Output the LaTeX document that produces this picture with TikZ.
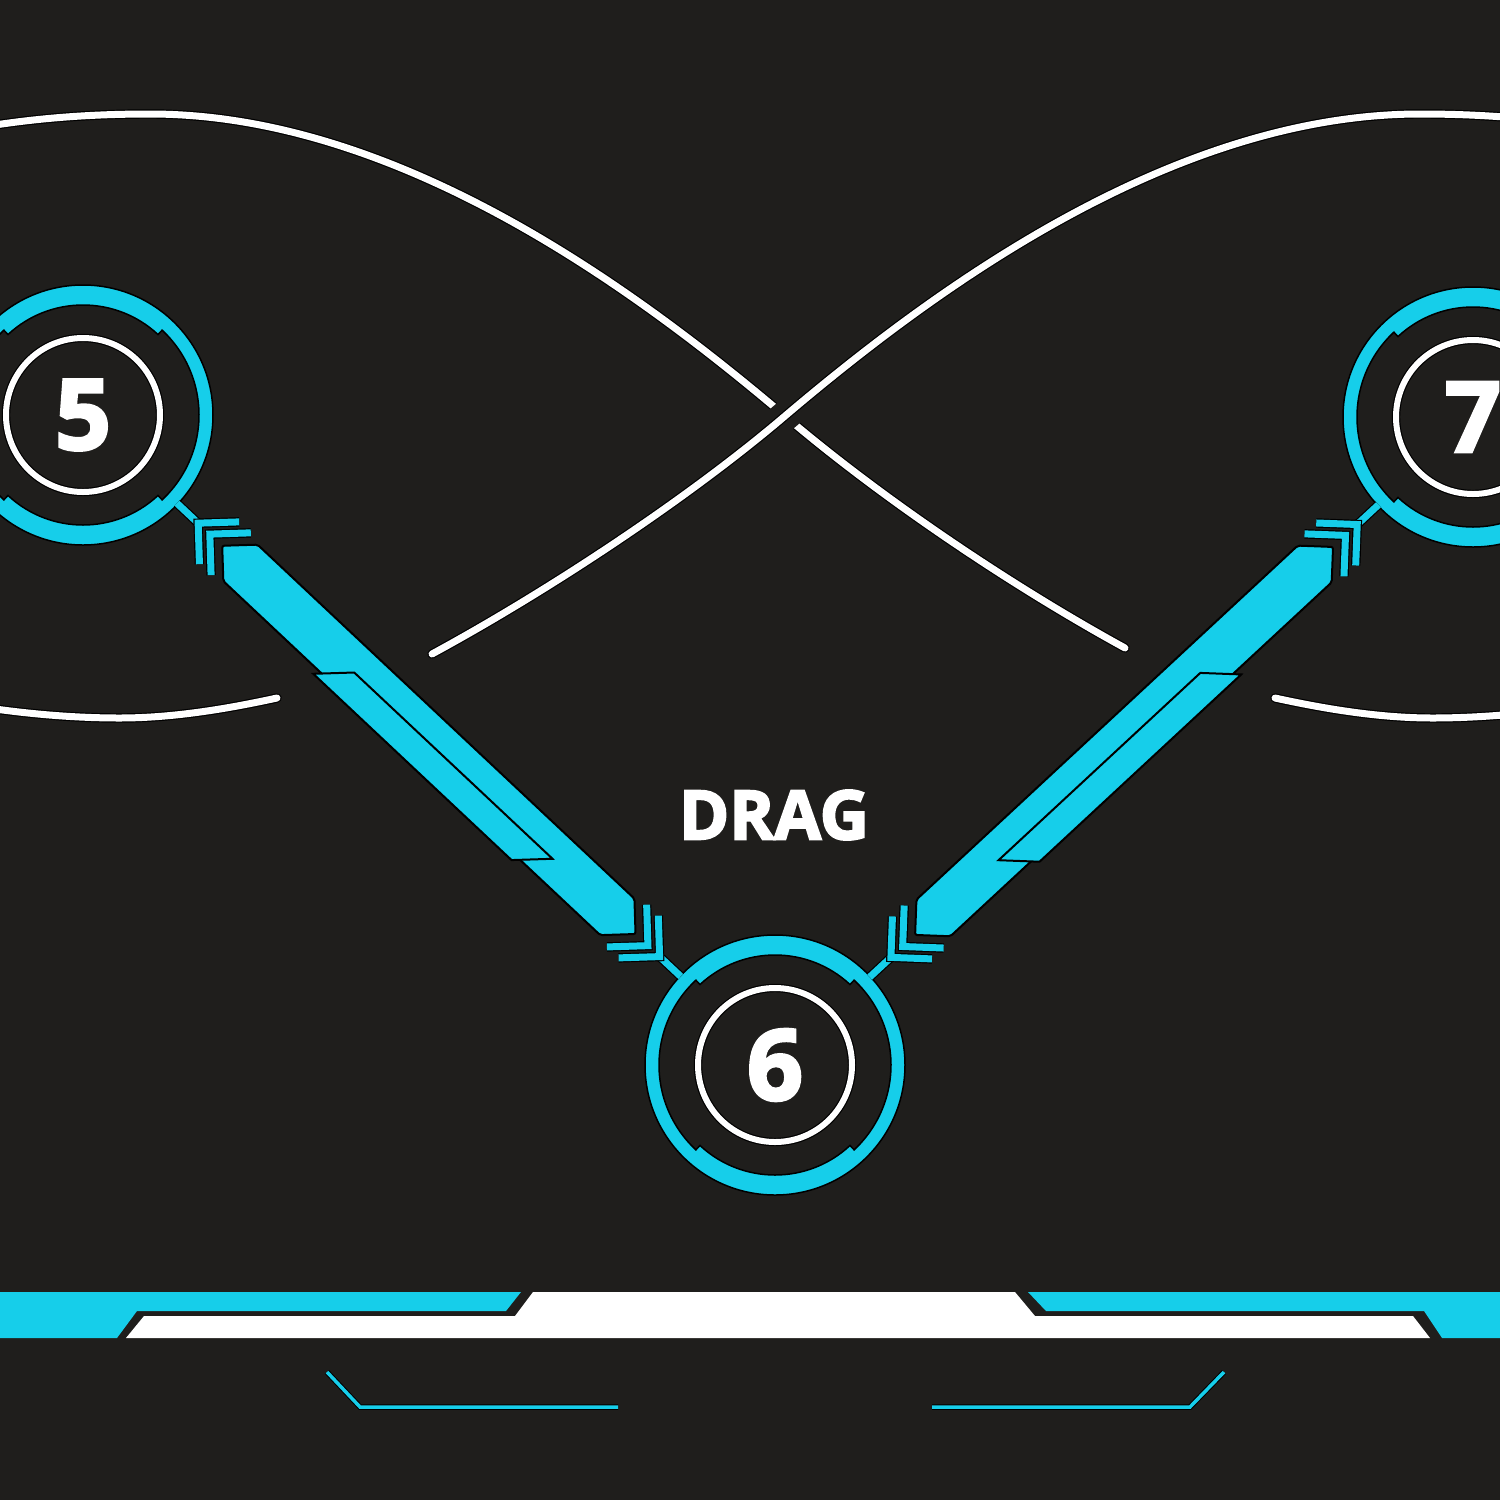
\documentclass[tikz,border=0pt]{standalone}
\usepackage{fontspec}
\setmainfont{Open Sans}
\usetikzlibrary{calc}
\definecolor{bgdark}{RGB}{31,30,28}
\definecolor{cyanc}{RGB}{22,206,234}
\tikzset{
  wcurve/.style={draw=black, line width=1.2pt, double=white, double distance=7pt, line cap=round},
  cline/.style={draw=black, line width=1.2pt, double=cyanc, double distance=7pt},
  thinc/.style={draw=black, line width=1pt, double=cyanc, double distance=3.5pt},
  numnode/.style={circle, draw=black, line width=1.2pt, double=white, double distance=6pt,
    minimum size=154pt, inner sep=0pt, text=white,
    font=\bfseries\addfontfeatures{FakeBold=3}\fontsize{98}{98}\selectfont},
  dragtxt/.style={text=white, font=\bfseries\addfontfeatures{FakeBold=3}\fontsize{68}{68}\selectfont},
  ring/.pic={
    \fill[cyanc, draw=black, line width=1.5pt, even odd rule] (0,0) circle[radius=130]
      (47:110) arc[start angle=47, end angle=133, radius=110] -- (133:116)
      arc[start angle=133, end angle=227, radius=116] -- (227:110)
      arc[start angle=227, end angle=313, radius=110] -- (313:116)
      arc[start angle=313, end angle=407, radius=116] -- cycle;
  }
}

\begin{document}
\begin{tikzpicture}[x=1pt, y=-1pt]
\useasboundingbox (0,0) rectangle (1500,1500);
\fill[bgdark] (0,0) rectangle (1500,1500);
\clip (0,0) rectangle (1500,1500);

% infinity curve
\draw[wcurve] (-60,135) .. controls (20,118) and (90,114) .. (150,114)
  .. controls (400,114) and (640,293) .. (785,416)
  .. controls (880,497) and (1010,585) .. (1125,648);
\draw[wcurve, preaction={draw=bgdark, line width=30pt, line cap=butt}]
  (1630,135) .. controls (1550,118) and (1480,114) .. (1420,114)
  .. controls (1170,114) and (930,293) .. (785,416)
  .. controls (690,497) and (550,590) .. (432,654);
\draw[wcurve] (-60,700) .. controls (20,715) and (80,718) .. (120,718)
  .. controls (180,718) and (240,706) .. (277,698);
\draw[wcurve] (1275,698) .. controls (1312,706) and (1372,718) .. (1432,718)
  .. controls (1472,718) and (1532,715) .. (1612,700);

\node[numnode] (n5) at (83,415) {5};
\node[numnode] (n6) at (775,1065) {6};
\node[numnode] (n7) at (1473,417) {7};
\node[dragtxt] (drag) at (774,815) {DRAG};

\foreach \nd in {n5,n6,n7} \pic at (\nd) {ring};

% links between the rings
\foreach \na/\nb/\sg in {n5/n6/1, n7/n6/-1}{
  \pgfmathanglebetweenpoints{\pgfpointanchor{\na}{center}}{\pgfpointanchor{\nb}{center}}
  \let\lkang\pgfmathresult
  \pgfpointdiff{\pgfpointanchor{\na}{center}}{\pgfpointanchor{\nb}{center}}
  \pgfgetlastxy{\lkx}{\lky}
  \pgfmathsetmacro{\lklen}{veclen(\lkx,\lky)}
  \begin{scope}[shift={(\na)}, rotate=\lkang, yscale=\sg]
    \draw[cline] (129,0) -- (158,0);
    \draw[cline] ({\lklen-158},0) -- ({\lklen-129},0);
    \foreach \ch in {158,174}{
      \draw[cline] (\ch+29,29) -- (\ch,0) -- (\ch+29,-29);
      \draw[cline] ({\lklen-\ch-29},29) -- ({\lklen-\ch},0) -- ({\lklen-\ch-29},-29);
    }
    \fill[cyanc, draw=black, line width=2pt, rounded corners=2pt] (191,0) -- (216,25)
      -- ({\lklen-216},25) -- ({\lklen-191},0) -- ({\lklen-216},-25) -- (216,-25) -- cycle;
    \fill[cyanc, draw=black, line width=2pt] (374,2) -- ({\lklen-303},2)
      -- ({\lklen-332},31) -- (345,31) -- cycle;
  \end{scope}
}

% bottom bar
\fill[cyanc] (0,1292) -- (521,1292) -- (506,1311) -- (137,1311) -- (117,1338) -- (0,1338) -- cycle;
\fill[white] (533,1292) -- (1015,1292) -- (1035,1316) -- (1413,1316) -- (1430,1338)
  -- (126,1338) -- (144,1316) -- (515,1316) -- cycle;
\fill[cyanc] (1028,1292) -- (1500,1292) -- (1500,1338) -- (1442,1338) -- (1424,1311) -- (1046,1311) -- cycle;
\draw[thinc] (327,1372) -- (360,1407) -- (618,1407);
\draw[thinc] (932,1407) -- (1190,1407) -- (1224,1372);
\end{tikzpicture}
\end{document}
